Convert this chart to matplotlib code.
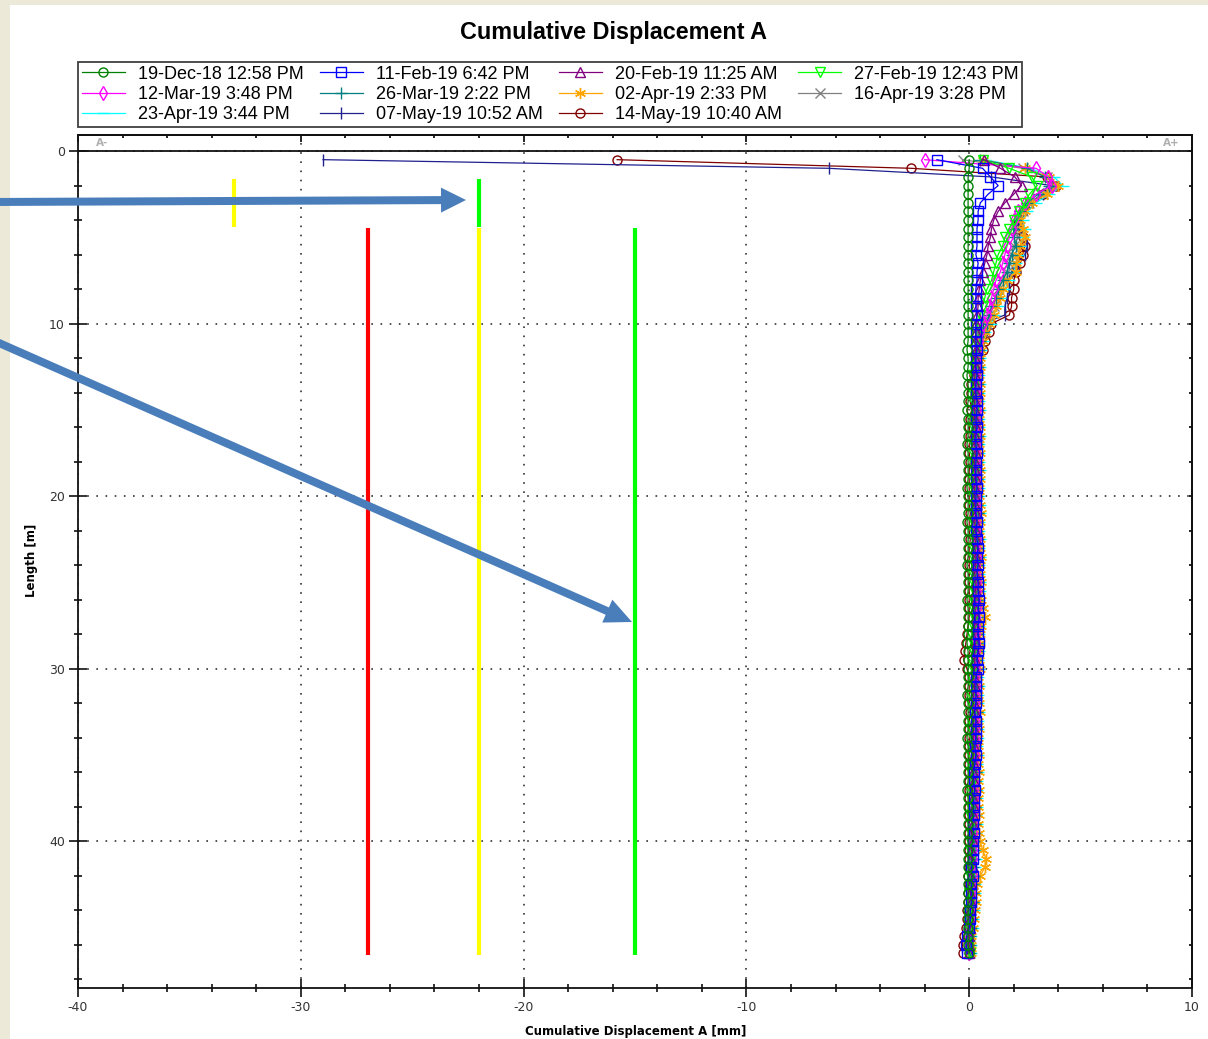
import matplotlib
matplotlib.use("Agg")
import matplotlib.pyplot as plt
from matplotlib.ticker import MultipleLocator
from matplotlib.patches import Rectangle, FancyArrow
from matplotlib.transforms import IdentityTransform

plt.rcParams["axes.unicode_minus"] = False

# depth of each reading [m]
depth = [0.5, 1.0, 1.5, 2.0, 2.5, 3.0, 3.5, 4.0, 4.5, 5.0,
         5.5, 6.0, 6.5, 7.0, 7.5, 8.0, 8.5, 9.0, 9.5, 10.0,
         10.5, 11.0, 11.5, 12.0, 12.5, 13.0, 13.5, 14.0, 14.5, 15.0,
         15.5, 16.0, 16.5, 17.0, 17.5, 18.0, 18.5, 19.0, 19.5, 20.0,
         20.5, 21.0, 21.5, 22.0, 22.5, 23.0, 23.5, 24.0, 24.5, 25.0,
         25.5, 26.0, 26.5, 27.0, 27.5, 28.0, 28.5, 29.0, 29.5, 30.0,
         30.5, 31.0, 31.5, 32.0, 32.5, 33.0, 33.5, 34.0, 34.5, 35.0,
         35.5, 36.0, 36.5, 37.0, 37.5, 38.0, 38.5, 39.0, 39.5, 40.0,
         40.5, 41.0, 41.5, 42.0, 42.5, 43.0, 43.5, 44.0, 44.5, 45.0,
         45.5, 46.0, 46.5]

dec19 = [0.0, 0.0, -0.05, -0.05, -0.05, -0.05, -0.05, -0.05, -0.05, -0.05,
         -0.05, -0.05, -0.05, -0.05, -0.05, -0.05, -0.05, -0.05, -0.05, -0.05,
         -0.05, -0.05, -0.1, -0.05, -0.05, -0.1, -0.05, -0.05, -0.05, -0.1,
         -0.05, -0.05, -0.05, -0.1, -0.05, -0.05, -0.05, -0.05, -0.1, -0.05,
         -0.05, -0.05, -0.1, -0.05, -0.05, -0.05, -0.05, -0.1, -0.05, -0.05,
         -0.05, -0.1, -0.05, -0.05, -0.05, -0.05, -0.1, -0.05, -0.05, -0.05,
         -0.05, -0.05, -0.1, -0.05, -0.05, -0.05, -0.05, -0.1, -0.05, -0.05,
         -0.05, -0.05, -0.05, -0.1, -0.05, -0.05, -0.05, -0.05, -0.05, -0.05,
         -0.05, -0.05, -0.05, -0.05, -0.05, -0.05, -0.05, -0.05, -0.05, -0.05,
         -0.05, -0.05, 0.0]

feb11 = [-1.45, 0.6, 0.95, 1.3, 0.85, 0.5, 0.4, 0.4, 0.35, 0.35,
         0.35, 0.3, 0.4, 0.35, 0.35, 0.3, 0.3, 0.3, 0.35, 0.3,
         0.3, 0.3, 0.35, 0.3, 0.3, 0.35, 0.3, 0.3, 0.35, 0.35,
         0.3, 0.35, 0.3, 0.3, 0.35, 0.3, 0.3, 0.3, 0.35, 0.3,
         0.3, 0.3, 0.35, 0.3, 0.35, 0.4, 0.35, 0.4, 0.35, 0.4,
         0.4, 0.45, 0.4, 0.45, 0.4, 0.4, 0.45, 0.4, 0.35, 0.4,
         0.3, 0.3, 0.3, 0.3, 0.25, 0.3, 0.3, 0.3, 0.25, 0.3,
         0.25, 0.2, 0.2, 0.25, 0.2, 0.2, 0.2, 0.15, 0.2, 0.15,
         0.15, 0.15, 0.1, 0.15, 0.1, 0.1, 0.1, 0.05, 0.05, 0.0,
         -0.1, -0.15, -0.1]

feb20 = [0.65, 1.4, 2.05, 2.35, 2.0, 1.6, 1.3, 1.1, 1.0, 0.95,
         0.85, 0.8, 0.7, 0.6, 0.5, 0.45, 0.4, 0.4, 0.35, 0.3,
         0.3, 0.25, 0.3, 0.25, 0.3, 0.25, 0.25, 0.3, 0.25, 0.25,
         0.25, 0.3, 0.25, 0.25, 0.3, 0.25, 0.25, 0.3, 0.25, 0.25,
         0.25, 0.3, 0.25, 0.3, 0.3, 0.25, 0.3, 0.3, 0.25, 0.3,
         0.3, 0.3, 0.25, 0.3, 0.25, 0.25, 0.3, 0.25, 0.25, 0.25,
         0.2, 0.25, 0.2, 0.2, 0.25, 0.2, 0.2, 0.2, 0.2, 0.2,
         0.2, 0.15, 0.2, 0.15, 0.15, 0.2, 0.15, 0.15, 0.1, 0.15,
         0.1, 0.1, 0.15, 0.1, 0.1, 0.05, 0.1, 0.05, 0.05, 0.05,
         0.0, 0.0, 0.0]

feb27 = [0.6, 1.8, 2.8, 3.05, 2.7, 2.5, 2.25, 2.0, 1.8, 1.6,
         1.5, 1.3, 1.2, 1.1, 1.0, 0.8, 0.7, 0.6, 0.5, 0.4,
         0.35, 0.3, 0.25, 0.2, 0.2, 0.15, 0.2, 0.15, 0.15, 0.2,
         0.15, 0.15, 0.2, 0.15, 0.15, 0.15, 0.2, 0.15, 0.15, 0.15,
         0.15, 0.2, 0.15, 0.15, 0.2, 0.15, 0.15, 0.2, 0.15, 0.15,
         0.2, 0.15, 0.15, 0.2, 0.15, 0.1, 0.15, 0.15, 0.1, 0.15,
         0.1, 0.15, 0.1, 0.1, 0.15, 0.1, 0.1, 0.15, 0.1, 0.1,
         0.1, 0.1, 0.15, 0.1, 0.1, 0.1, 0.05, 0.1, 0.1, 0.05,
         0.05, 0.1, 0.05, 0.05, 0.05, 0.0, 0.05, 0.0, 0.0, 0.0,
         0.0, 0.0, 0.05]

mar12 = [-2.0, 3.0, 3.55, 3.7, 3.0, 2.5, 2.2, 2.0, 1.9, 1.8,
         1.7, 1.6, 1.5, 1.4, 1.2, 1.1, 1.0, 0.9, 0.8, 0.6,
         0.5, 0.45, 0.4, 0.35, 0.35, 0.3, 0.35, 0.3, 0.3, 0.35,
         0.3, 0.3, 0.35, 0.3, 0.3, 0.3, 0.35, 0.3, 0.3, 0.3,
         0.3, 0.35, 0.3, 0.3, 0.35, 0.3, 0.35, 0.3, 0.3, 0.35,
         0.35, 0.3, 0.35, 0.3, 0.3, 0.3, 0.3, 0.3, 0.25, 0.3,
         0.25, 0.3, 0.25, 0.25, 0.3, 0.25, 0.25, 0.25, 0.2, 0.25,
         0.2, 0.25, 0.2, 0.2, 0.2, 0.2, 0.15, 0.2, 0.15, 0.15,
         0.15, 0.15, 0.1, 0.15, 0.1, 0.1, 0.1, 0.05, 0.05, 0.05,
         0.0, 0.0, 0.0]

mar26 = [0.5, 2.6, 3.4, 3.6, 3.1, 2.6, 2.3, 2.1, 2.0, 2.0,
         2.1, 1.9, 1.8, 1.7, 1.5, 1.3, 1.2, 1.0, 0.9, 0.8,
         0.6, 0.5, 0.45, 0.4, 0.4, 0.35, 0.4, 0.35, 0.35, 0.4,
         0.35, 0.35, 0.4, 0.35, 0.35, 0.35, 0.4, 0.35, 0.35, 0.35,
         0.35, 0.4, 0.35, 0.35, 0.4, 0.35, 0.4, 0.35, 0.35, 0.4,
         0.4, 0.35, 0.4, 0.35, 0.35, 0.35, 0.35, 0.35, 0.3, 0.35,
         0.3, 0.35, 0.3, 0.3, 0.35, 0.3, 0.3, 0.3, 0.25, 0.3,
         0.25, 0.3, 0.25, 0.25, 0.25, 0.25, 0.2, 0.25, 0.2, 0.2,
         0.2, 0.2, 0.15, 0.2, 0.15, 0.15, 0.15, 0.1, 0.1, 0.1,
         0.05, 0.05, 0.05]

apr02 = [0.6, 2.5, 3.6, 4.0, 3.5, 2.8, 2.5, 2.3, 2.4, 2.5,
         2.3, 2.2, 2.1, 2.1, 1.7, 1.5, 1.4, 1.2, 1.1, 0.9,
         0.7, 0.6, 0.55, 0.5, 0.5, 0.45, 0.5, 0.5, 0.45, 0.5,
         0.45, 0.5, 0.5, 0.45, 0.5, 0.45, 0.5, 0.5, 0.45, 0.45,
         0.5, 0.55, 0.5, 0.45, 0.5, 0.5, 0.55, 0.5, 0.5, 0.55,
         0.5, 0.55, 0.6, 0.7, 0.55, 0.5, 0.5, 0.45, 0.45, 0.5,
         0.4, 0.45, 0.4, 0.45, 0.5, 0.4, 0.45, 0.4, 0.4, 0.45,
         0.4, 0.45, 0.4, 0.45, 0.4, 0.4, 0.45, 0.4, 0.45, 0.5,
         0.6, 0.75, 0.7, 0.5, 0.35, 0.3, 0.3, 0.25, 0.2, 0.15,
         0.1, 0.1, 0.1]

apr16 = [-0.3, 2.4, 3.5, 3.8, 3.3, 2.7, 2.4, 2.2, 2.1, 2.2,
         2.0, 1.9, 1.8, 1.7, 1.5, 1.3, 1.2, 1.1, 0.9, 0.8,
         0.6, 0.5, 0.45, 0.4, 0.4, 0.4, 0.35, 0.4, 0.35, 0.35,
         0.4, 0.35, 0.35, 0.4, 0.35, 0.35, 0.35, 0.4, 0.35, 0.35,
         0.35, 0.35, 0.4, 0.35, 0.35, 0.4, 0.35, 0.35, 0.4, 0.35,
         0.35, 0.4, 0.35, 0.35, 0.4, 0.35, 0.3, 0.35, 0.35, 0.3,
         0.3, 0.3, 0.35, 0.3, 0.3, 0.3, 0.25, 0.3, 0.3, 0.25,
         0.25, 0.25, 0.2, 0.25, 0.2, 0.2, 0.2, 0.2, 0.15, 0.2,
         0.15, 0.15, 0.15, 0.1, 0.15, 0.1, 0.1, 0.1, 0.05, 0.05,
         0.05, 0.0, 0.05]

apr23 = [0.7, 2.7, 3.8, 4.2, 3.6, 3.0, 2.6, 2.4, 2.5, 2.4,
         2.3, 2.2, 2.1, 2.0, 1.8, 1.6, 1.4, 1.3, 1.1, 1.0,
         0.7, 0.6, 0.55, 0.5, 0.5, 0.45, 0.5, 0.45, 0.45, 0.5,
         0.45, 0.45, 0.5, 0.45, 0.45, 0.45, 0.5, 0.45, 0.45, 0.45,
         0.5, 0.5, 0.45, 0.45, 0.5, 0.45, 0.5, 0.45, 0.45, 0.5,
         0.5, 0.45, 0.5, 0.45, 0.45, 0.45, 0.45, 0.45, 0.4, 0.45,
         0.4, 0.45, 0.4, 0.4, 0.45, 0.4, 0.4, 0.4, 0.35, 0.4,
         0.35, 0.4, 0.35, 0.35, 0.35, 0.35, 0.3, 0.35, 0.3, 0.3,
         0.3, 0.3, 0.25, 0.3, 0.25, 0.25, 0.2, 0.2, 0.15, 0.15,
         0.1, 0.1, 0.1]

may07 = [-29.0, -6.3, 1.0, 3.7, 3.3, 2.7, 2.4, 2.2, 2.3, 2.5,
         2.6, 2.5, 2.2, 1.9, 1.8, 1.8, 1.7, 1.6, 1.6, 0.6,
         0.45, 0.35, 0.3, 0.3, 0.25, 0.3, 0.25, 0.25, 0.3, 0.25,
         0.25, 0.25, 0.3, 0.25, 0.25, 0.25, 0.3, 0.25, 0.25, 0.25,
         0.25, 0.3, 0.25, 0.25, 0.3, 0.25, 0.3, 0.25, 0.25, 0.3,
         0.3, 0.25, 0.3, 0.25, 0.25, 0.25, 0.25, 0.25, 0.2, 0.25,
         0.2, 0.25, 0.2, 0.2, 0.25, 0.2, 0.2, 0.2, 0.15, 0.2,
         0.15, 0.2, 0.15, 0.15, 0.15, 0.15, 0.1, 0.15, 0.1, 0.1,
         0.1, 0.1, 0.05, 0.1, 0.05, 0.05, 0.05, 0.0, 0.0, 0.0,
         -0.05, -0.05, -0.05]

may14 = [-15.8, -2.6, 3.5, 3.9, 3.3, 2.7, 2.4, 2.2, 2.2, 2.4,
         2.5, 2.4, 2.3, 2.1, 2.0, 2.0, 1.9, 1.9, 1.8, 1.0,
         0.9, 0.7, 0.6, 0.4, 0.3, 0.2, 0.1, 0.1, 0.05, 0.1,
         0.05, 0.0, 0.05, 0.0, 0.0, 0.05, 0.0, 0.0, 0.0, 0.0,
         0.0, 0.05, 0.0, 0.0, 0.05, 0.0, 0.0, 0.0, 0.0, 0.0,
         0.0, 0.0, 0.0, 0.0, -0.05, -0.1, -0.15, -0.2, -0.25, -0.1,
         0.0, 0.0, 0.0, 0.0, 0.05, 0.0, 0.0, 0.0, 0.0, 0.0,
         0.0, 0.0, 0.0, 0.0, 0.0, 0.0, 0.0, 0.0, 0.0, 0.0,
         0.0, 0.0, 0.0, -0.05, 0.0, -0.05, -0.05, -0.1, -0.1, -0.15,
         -0.25, -0.3, -0.3]

labels = ["19-Dec-18 12:58 PM", "11-Feb-19 6:42 PM", "20-Feb-19 11:25 AM",
          "27-Feb-19 12:43 PM", "12-Mar-19 3:48 PM", "26-Mar-19 2:22 PM",
          "02-Apr-19 2:33 PM", "16-Apr-19 3:28 PM", "23-Apr-19 3:44 PM",
          "07-May-19 10:52 AM", "14-May-19 10:40 AM"]
series = [dec19, feb11, feb20, feb27, mar12, mar26, apr02, apr16, apr23, may07, may14]

# threshold bars drawn on the chart
thr_x = [-33, -22, -27, -22, -15]
thr_top = [1.6, 1.6, 4.45, 4.45, 4.45]
thr_bot = [4.4, 4.4, 46.6, 46.6, 46.6]
thr_col = ["#ffff00", "#00ff00", "#ff0000", "#ffff00", "#00ff00"]

colors = ["#008000", "#0000ff", "#800080", "#00ff00", "#ff00ff", "#008080",
          "#ffa500", "#808080", "#00ffff", "#20208f", "#800000"]
markers = ["o", "s", "^", "v", "d", "+", (6, 2, 0), "x", "_", "|", "o"]
msizes = [6.5, 7, 7, 7, 7, 8, 8, 7, 8, 8, 6.5]

W, H = 1208, 1039
fig = plt.figure(figsize=(W / 100, H / 100), dpi=100)
fig.patch.set_facecolor("#ece9d8")
fig.add_artist(Rectangle((10 / W, 0), 1, (H - 5) / H, transform=fig.transFigure,
                         facecolor="white", edgecolor="none", zorder=-10))

ax = fig.add_axes([78 / W, (H - 988) / H, (1192 - 78) / W, (988 - 135) / H])
ax.set_xlim(-40, 10)
ax.set_ylim(48.5, -0.93)

for th_x, t0, t1, c in zip(thr_x, thr_top, thr_bot, thr_col):
    ax.plot([th_x, th_x], [t0, t1], color=c, lw=3, solid_capstyle="butt", zorder=2)

# first survey ends up on top, like the source software
lines = []
n = len(series)
for i, (vals, lab, c, m, ms) in enumerate(zip(series, labels, colors, markers, msizes)):
    ln, = ax.plot(vals, depth, color=c, lw=0.9, marker=m, ms=ms,
                  mfc="none", mec=c, mew=1.0, label=lab, zorder=3 + (n - i) * 0.01)
    lines.append(ln)

ax.axhline(0, color="#111111", lw=1.3, zorder=4)

ax.xaxis.set_major_locator(MultipleLocator(10))
ax.xaxis.set_minor_locator(MultipleLocator(2))
ax.yaxis.set_major_locator(MultipleLocator(10))
ax.yaxis.set_minor_locator(MultipleLocator(2))
ax.tick_params(which="major", direction="inout", length=13, width=1.2,
               labelsize=9, labelcolor="#333333", color="#111111", pad=3)
ax.tick_params(which="minor", direction="inout", length=5.5, width=1.2, color="#111111")
ax.grid(which="major", linestyle=(0, (1, 4.5)), color="#333333", lw=1.2)
for s in ax.spines.values():
    s.set_linewidth(1.3)
    s.set_color("#111111")

secx = ax.secondary_xaxis("top")
secx.xaxis.set_major_locator(MultipleLocator(10))
secx.xaxis.set_minor_locator(MultipleLocator(2))
secx.tick_params(which="major", direction="in", length=5, width=1.2, labeltop=False)
secx.tick_params(which="minor", direction="in", length=2.5, width=1.2)
secx.spines["top"].set_linewidth(1.3)

secy = ax.secondary_yaxis("right")
secy.yaxis.set_major_locator(MultipleLocator(10))
secy.yaxis.set_minor_locator(MultipleLocator(2))
secy.tick_params(which="major", direction="in", length=2.5, width=1.2, labelright=False)
secy.tick_params(which="minor", direction="in", length=2.5, width=1.2)
secy.spines["right"].set_linewidth(1.3)

ax.text(-39.2, -0.45, "A-", color="#b0b0b0", fontsize=7.5, fontweight="bold",
        ha="left", va="center")
ax.text(9.45, -0.45, "A+", color="#b0b0b0", fontsize=7.5, fontweight="bold",
        ha="right", va="center")

order = [0, 4, 8, 1, 5, 9, 2, 6, 10, 3, 7]
leg = fig.legend([lines[i] for i in order], [labels[i] for i in order],
                 loc="upper left", bbox_to_anchor=(78 / W, 1 - 62 / H), ncols=4,
                 prop={"family": "Liberation Sans", "size": 13}, frameon=True,
                 fancybox=False, edgecolor="#111111", borderpad=0.2,
                 labelspacing=0.19, handlelength=2.4, handletextpad=0.7,
                 columnspacing=0.9, markerscale=1.0, borderaxespad=0)
leg.get_frame().set_linewidth(1.3)

fig.text(614 / W, 1 - 33 / H, "Cumulative Displacement A", ha="center", va="center",
         fontsize=16.8, fontweight="bold", family="Liberation Sans")
fig.text(636 / W, 1 - 1032 / H, "Cumulative Displacement A [mm]", ha="center",
         va="center", fontsize=8.5, fontweight="bold")
fig.text(31 / W, 1 - 560 / H, "Length [m]", ha="center", va="center",
         rotation=90, fontsize=8.5, fontweight="bold")

# callout arrows (pixel coordinates)
arrow_c = "#4a7ebb"
fig.add_artist(FancyArrow(-10, H - 202, 476, 2, width=8, head_width=25, head_length=25,
                          length_includes_head=True, color=arrow_c, lw=0,
                          transform=IdentityTransform(), zorder=10))
fig.add_artist(FancyArrow(-10, H - 339, 642, -(622 - 339), width=8, head_width=25,
                          head_length=27, length_includes_head=True, color=arrow_c,
                          lw=0, transform=IdentityTransform(), zorder=10))

fig.savefig("out.png", dpi=100, facecolor=fig.get_facecolor())
